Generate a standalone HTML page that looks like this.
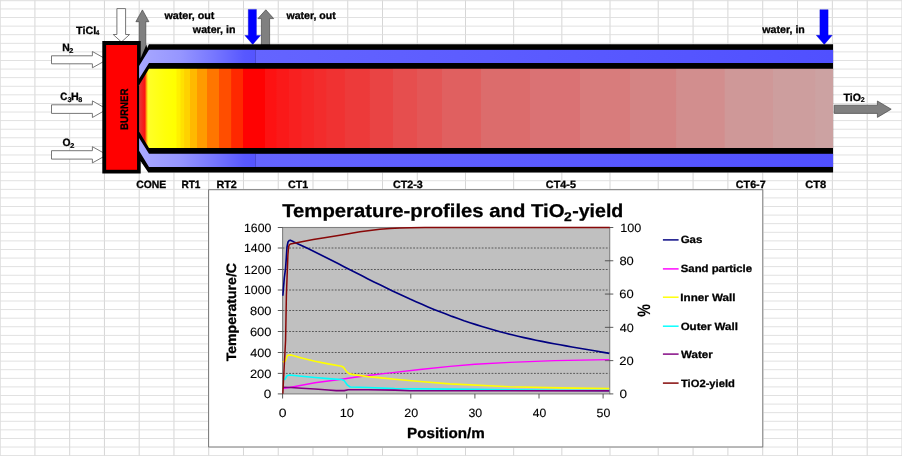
<!DOCTYPE html>
<html lang="en"><head><meta charset="utf-8"><title>Temperature-profiles and TiO2-yield</title>
<style>
html,body{margin:0;padding:0;background:#fff;}
body{width:902px;height:456px;overflow:hidden;font-family:'Liberation Sans', Arial, Helvetica, sans-serif;}
svg{display:block;}
</style></head><body>
<svg width="902" height="456" viewBox="0 0 902 456" font-family="'Liberation Sans', Arial, Helvetica, sans-serif" text-rendering="geometricPrecision"><rect width="902" height="456" fill="#fff"/>
<g fill="#d6d6d6"><rect x="-0.35" y="0" width="1" height="456"/><rect x="34.41" y="0" width="1" height="456"/><rect x="69.17" y="0" width="1" height="456"/><rect x="103.93" y="0" width="1" height="456"/><rect x="138.69" y="0" width="1" height="456"/><rect x="173.45" y="0" width="1" height="456"/><rect x="208.21" y="0" width="1" height="456"/><rect x="242.97" y="0" width="1" height="456"/><rect x="277.73" y="0" width="1" height="456"/><rect x="312.49" y="0" width="1" height="456"/><rect x="347.25" y="0" width="1" height="456"/><rect x="382.01" y="0" width="1" height="456"/><rect x="416.77" y="0" width="1" height="456"/><rect x="464.98" y="0" width="1" height="456"/><rect x="513.16" y="0" width="1" height="456"/><rect x="561.34" y="0" width="1" height="456"/><rect x="609.52" y="0" width="1" height="456"/><rect x="657.70" y="0" width="1" height="456"/><rect x="692.57" y="0" width="1" height="456"/><rect x="727.39" y="0" width="1" height="456"/><rect x="762.21" y="0" width="1" height="456"/><rect x="797.03" y="0" width="1" height="456"/><rect x="831.85" y="0" width="1" height="456"/><rect x="866.67" y="0" width="1" height="456"/><rect x="901.49" y="0" width="1" height="456"/></g><g fill="#dedede"><rect x="0" y="0.2" width="902" height="1"/><rect x="0" y="8.49" width="902" height="0.9"/><rect x="0" y="17.08" width="902" height="0.9"/><rect x="0" y="25.67" width="902" height="0.9"/><rect x="0" y="34.26" width="902" height="0.9"/><rect x="0" y="42.85" width="902" height="0.9"/><rect x="0" y="51.44" width="902" height="0.9"/><rect x="0" y="60.03" width="902" height="0.9"/><rect x="0" y="68.62" width="902" height="0.9"/><rect x="0" y="77.21" width="902" height="0.9"/><rect x="0" y="85.80" width="902" height="0.9"/><rect x="0" y="94.39" width="902" height="0.9"/><rect x="0" y="102.98" width="902" height="0.9"/><rect x="0" y="111.57" width="902" height="0.9"/><rect x="0" y="120.16" width="902" height="0.9"/><rect x="0" y="128.75" width="902" height="0.9"/><rect x="0" y="137.34" width="902" height="0.9"/><rect x="0" y="145.93" width="902" height="0.9"/><rect x="0" y="154.52" width="902" height="0.9"/><rect x="0" y="163.11" width="902" height="0.9"/><rect x="0" y="171.70" width="902" height="0.9"/><rect x="0" y="180.29" width="902" height="0.9"/><rect x="0" y="188.88" width="902" height="0.9"/><rect x="0" y="197.47" width="902" height="0.9"/><rect x="0" y="206.06" width="902" height="0.9"/><rect x="0" y="214.65" width="902" height="0.9"/><rect x="0" y="223.24" width="902" height="0.9"/><rect x="0" y="231.83" width="902" height="0.9"/><rect x="0" y="240.42" width="902" height="0.9"/><rect x="0" y="249.01" width="902" height="0.9"/><rect x="0" y="257.60" width="902" height="0.9"/><rect x="0" y="266.19" width="902" height="0.9"/><rect x="0" y="274.78" width="902" height="0.9"/><rect x="0" y="283.37" width="902" height="0.9"/><rect x="0" y="291.96" width="902" height="0.9"/><rect x="0" y="300.55" width="902" height="0.9"/><rect x="0" y="309.14" width="902" height="0.9"/><rect x="0" y="317.73" width="902" height="0.9"/><rect x="0" y="326.32" width="902" height="0.9"/><rect x="0" y="334.91" width="902" height="0.9"/><rect x="0" y="343.50" width="902" height="0.9"/><rect x="0" y="352.09" width="902" height="0.9"/><rect x="0" y="360.68" width="902" height="0.9"/><rect x="0" y="369.27" width="902" height="0.9"/><rect x="0" y="377.86" width="902" height="0.9"/><rect x="0" y="386.45" width="902" height="0.9"/><rect x="0" y="395.04" width="902" height="0.9"/><rect x="0" y="403.63" width="902" height="0.9"/><rect x="0" y="412.22" width="902" height="0.9"/><rect x="0" y="420.81" width="902" height="0.9"/><rect x="0" y="429.40" width="902" height="0.9"/><rect x="0" y="437.99" width="902" height="0.9"/><rect x="0" y="446.58" width="902" height="0.9"/><rect x="0" y="455.17" width="902" height="0.9"/></g>
<polygon points="116.90,8.60 125.60,8.60 125.60,34.50 129.60,34.50 121.40,42.00 113.20,34.50 116.90,34.50" fill="#fff" stroke="#686868" stroke-width="0.9"/>
<polygon points="51.50,55.80 92.40,55.80 92.40,51.50 107.00,59.65 92.40,67.80 92.40,63.80 51.50,63.80" fill="#fff" stroke="#686868" stroke-width="0.9"/>
<polygon points="51.50,104.80 92.40,104.80 92.40,100.90 107.00,109.20 92.40,117.50 92.40,113.40 51.50,113.40" fill="#fff" stroke="#686868" stroke-width="0.9"/>
<polygon points="51.50,150.70 92.40,150.70 92.40,146.70 107.00,154.80 92.40,162.90 92.40,159.10 51.50,159.10" fill="#fff" stroke="#686868" stroke-width="0.9"/>
<polygon points="142.40,9.90 148.90,21.70 145.80,21.70 145.80,58.00 139.20,58.00 139.20,21.70 135.90,21.70" fill="#808080" stroke="#484848" stroke-width="0.7"/>
<polygon points="265.80,9.80 273.70,18.60 269.60,18.60 269.60,46.00 261.40,46.00 261.40,18.60 257.90,18.60" fill="#808080" stroke="#484848" stroke-width="0.7"/>
<polygon points="834.20,105.20 877.40,105.20 877.40,101.00 891.20,109.20 877.40,117.40 877.40,113.40 834.20,113.40" fill="#808080" stroke="#484848" stroke-width="0.7"/>
<polygon points="248.30,9.40 256.40,9.40 256.40,35.50 260.50,35.50 252.70,44.40 244.90,35.50 248.30,35.50" fill="#0000ff" stroke="#0000d0" stroke-width="0.4"/>
<polygon points="819.90,9.70 828.10,9.70 828.10,35.30 832.20,35.30 824.25,44.40 816.30,35.30 819.90,35.30" fill="#0000ff" stroke="#0000d0" stroke-width="0.4"/>
<rect x="102.3" y="41" width="38.4" height="132.5" fill="#000"/>
<rect x="106.15" y="45" width="30.9" height="124.8" fill="#ff0000"/>
<polygon points="138.00,57.90 140.70,57.90 146.60,44.20 833.10,44.20 833.10,172.60 148.30,172.60 140.70,161.20 138.00,161.20" fill="#000" />
<polygon points="146.40,44.00 149.00,44.00 147.10,48.00" fill="#e8e8e8" />
<defs>
<linearGradient id="bl1" gradientUnits="userSpaceOnUse" x1="139" y1="0" x2="255.8" y2="0">
<stop offset="0" stop-color="#a8a8ff"/><stop offset="0.35" stop-color="#9696ff"/><stop offset="0.63" stop-color="#7878ff"/><stop offset="0.8" stop-color="#6464ff"/><stop offset="0.9" stop-color="#5858ff"/><stop offset="1" stop-color="#5454ff"/>
</linearGradient>
<linearGradient id="bl2" gradientUnits="userSpaceOnUse" x1="255.8" y1="0" x2="833" y2="0">
<stop offset="0" stop-color="#6464ff"/><stop offset="1" stop-color="#5050ff"/>
</linearGradient>
</defs>
<polygon points="149.00,49.85 255.80,49.85 255.80,63.00 149.00,63.00 139.10,78.80 139.10,66.00" fill="url(#bl1)" />
<polygon points="149.00,166.95 255.80,166.95 255.80,153.80 149.00,153.80 139.10,138.00 139.10,150.80" fill="url(#bl1)" />
<rect x="255.8" y="49.85" width="577.30" height="13.15" fill="url(#bl2)"/>
<rect x="255.8" y="153.80" width="577.30" height="13.15" fill="url(#bl2)"/>
<defs><linearGradient id="fl" gradientUnits="userSpaceOnUse" x1="139.1" y1="0" x2="833.1" y2="0"><stop offset="0.00000" stop-color="#e63838"/><stop offset="0.00836" stop-color="#fc1212"/><stop offset="0.01037" stop-color="#ff960c"/><stop offset="0.01282" stop-color="#ffff28"/><stop offset="0.03732" stop-color="#ffff0a"/><stop offset="0.05029" stop-color="#ffff00"/><stop offset="0.05349" stop-color="#ffff00"/><stop offset="0.05429" stop-color="#fff000"/><stop offset="0.05925" stop-color="#fff000"/><stop offset="0.06005" stop-color="#ffe100"/><stop offset="0.06473" stop-color="#ffe100"/><stop offset="0.06553" stop-color="#ffd200"/><stop offset="0.07280" stop-color="#ffd200"/><stop offset="0.07360" stop-color="#ffb900"/><stop offset="0.08303" stop-color="#ffb900"/><stop offset="0.08383" stop-color="#ff9b00"/><stop offset="0.09773" stop-color="#ff9b00"/><stop offset="0.09853" stop-color="#ff7600"/><stop offset="0.11487" stop-color="#ff7600"/><stop offset="0.11567" stop-color="#ff4e00"/><stop offset="0.13245" stop-color="#ff4e00"/><stop offset="0.13325" stop-color="#ff2800"/><stop offset="0.14902" stop-color="#ff2800"/><stop offset="0.14982" stop-color="#ff0202"/><stop offset="0.18101" stop-color="#ff0202"/><stop offset="0.18181" stop-color="#fd1212"/><stop offset="0.19758" stop-color="#fd1212"/><stop offset="0.19838" stop-color="#fa1919"/><stop offset="0.21559" stop-color="#fa1919"/><stop offset="0.21639" stop-color="#f82020"/><stop offset="0.23361" stop-color="#f82020"/><stop offset="0.23441" stop-color="#f52626"/><stop offset="0.25133" stop-color="#f52626"/><stop offset="0.25213" stop-color="#f32c2c"/><stop offset="0.26948" stop-color="#f32c2c"/><stop offset="0.27028" stop-color="#f03232"/><stop offset="0.29585" stop-color="#f03232"/><stop offset="0.29665" stop-color="#ed3a3a"/><stop offset="0.33188" stop-color="#ed3a3a"/><stop offset="0.33268" stop-color="#e94444"/><stop offset="0.36545" stop-color="#e94444"/><stop offset="0.36625" stop-color="#e64e4e"/><stop offset="0.40032" stop-color="#e64e4e"/><stop offset="0.40112" stop-color="#e35656"/><stop offset="0.43577" stop-color="#e35656"/><stop offset="0.43657" stop-color="#e06060"/><stop offset="0.49225" stop-color="#e06060"/><stop offset="0.49305" stop-color="#dc6c6c"/><stop offset="0.56286" stop-color="#dc6c6c"/><stop offset="0.56366" stop-color="#da7274"/><stop offset="0.63490" stop-color="#da7274"/><stop offset="0.63570" stop-color="#d87c7c"/><stop offset="0.70666" stop-color="#d87c7c"/><stop offset="0.70746" stop-color="#d48484"/><stop offset="0.77366" stop-color="#d48484"/><stop offset="0.77446" stop-color="#d28e8e"/><stop offset="0.84326" stop-color="#d28e8e"/><stop offset="0.84406" stop-color="#cf9898"/><stop offset="0.91271" stop-color="#cf9898"/><stop offset="0.91351" stop-color="#cd9e9e"/><stop offset="0.97410" stop-color="#cd9e9e"/><stop offset="0.97490" stop-color="#cca2a2"/><stop offset="1" stop-color="#cca2a2"/></linearGradient></defs>
<polygon points="139.10,85.30 149.00,68.70 833.10,68.70 833.10,148.10 149.00,148.10 139.10,131.50" fill="url(#fl)" />
<text transform="translate(75.99 33.80) scale(1.0196 1.0000)" font-size="10.6" font-weight="bold" fill="#000" stroke="#000" stroke-width="0.294" stroke-linejoin="round">TiCl</text>
<text transform="translate(95.80 35.40) scale(0.9079 1.0000)" font-size="7.0" font-weight="bold" fill="#000" stroke="#000" stroke-width="0.220" stroke-linejoin="round">4</text>
<text transform="translate(62.23 50.80) scale(0.9754 1.0000)" font-size="10.6" font-weight="bold" fill="#000" stroke="#000" stroke-width="0.308" stroke-linejoin="round">N</text>
<text transform="translate(68.92 52.50) scale(1.1310 1.0000)" font-size="7.0" font-weight="bold" fill="#000" stroke="#000" stroke-width="0.177" stroke-linejoin="round">2</text>
<text transform="translate(60.31 100.40) scale(0.9146 1.0000)" font-size="10.6" font-weight="bold" fill="#000" stroke="#000" stroke-width="0.328" stroke-linejoin="round">C</text>
<text transform="translate(67.42 102.00) scale(1.0390 1.0000)" font-size="7.0" font-weight="bold" fill="#000" stroke="#000" stroke-width="0.192" stroke-linejoin="round">3</text>
<text transform="translate(71.11 100.40) scale(1.0074 1.0000)" font-size="10.6" font-weight="bold" fill="#000" stroke="#000" stroke-width="0.298" stroke-linejoin="round">H</text>
<text transform="translate(78.28 102.00) scale(1.0245 1.0000)" font-size="7.0" font-weight="bold" fill="#000" stroke="#000" stroke-width="0.195" stroke-linejoin="round">8</text>
<text transform="translate(62.49 146.05) scale(0.9705 1.0000)" font-size="10.6" font-weight="bold" fill="#000" stroke="#000" stroke-width="0.309" stroke-linejoin="round">O</text>
<text transform="translate(70.12 147.55) scale(1.1310 1.0000)" font-size="7.0" font-weight="bold" fill="#000" stroke="#000" stroke-width="0.177" stroke-linejoin="round">2</text>
<text transform="translate(843.59 100.80) scale(0.9996 1.0000)" font-size="10.6" font-weight="bold" fill="#000" stroke="#000" stroke-width="0.300" stroke-linejoin="round">TiO</text>
<text transform="translate(860.65 102.40) scale(1.0119 1.0000)" font-size="7.0" font-weight="bold" fill="#000" stroke="#000" stroke-width="0.198" stroke-linejoin="round">2</text>
<text transform="translate(164.45 19.10) scale(1.0102 1.0000)" font-size="10.6" font-weight="bold" fill="#000" stroke="#000" stroke-width="0.297" stroke-linejoin="round">water, out</text>
<text transform="translate(192.85 32.70) scale(1.0068 1.0000)" font-size="10.6" font-weight="bold" fill="#000" stroke="#000" stroke-width="0.298" stroke-linejoin="round">water, in</text>
<text transform="translate(286.45 19.10) scale(0.9960 1.0000)" font-size="10.6" font-weight="bold" fill="#000" stroke="#000" stroke-width="0.301" stroke-linejoin="round">water, out</text>
<text transform="translate(762.35 32.80) scale(1.0020 1.0000)" font-size="10.6" font-weight="bold" fill="#000" stroke="#000" stroke-width="0.299" stroke-linejoin="round">water, in</text>
<text transform="translate(127.80 129.93) rotate(-90) scale(0.9666 1.0870)" font-size="10.0" font-weight="bold" stroke="#000" stroke-width="0.310" stroke-linejoin="round">BURNER</text>
<text transform="translate(136.28 187.90) scale(0.9803 1.0000)" font-size="10.6" font-weight="bold" fill="#000" stroke="#000" stroke-width="0.306" stroke-linejoin="round">CONE</text>
<text transform="translate(181.45 187.90) scale(0.9486 1.0000)" font-size="10.6" font-weight="bold" fill="#000" stroke="#000" stroke-width="0.316" stroke-linejoin="round">RT1</text>
<text transform="translate(216.40 187.90) scale(1.0200 1.0000)" font-size="10.6" font-weight="bold" fill="#000" stroke="#000" stroke-width="0.294" stroke-linejoin="round">RT2</text>
<text transform="translate(288.07 187.90) scale(1.0080 1.0000)" font-size="10.6" font-weight="bold" fill="#000" stroke="#000" stroke-width="0.298" stroke-linejoin="round">CT1</text>
<text transform="translate(393.07 187.90) scale(1.0098 1.0000)" font-size="10.6" font-weight="bold" fill="#000" stroke="#000" stroke-width="0.297" stroke-linejoin="round">CT2-3</text>
<text transform="translate(545.87 187.90) scale(1.0200 1.0000)" font-size="10.6" font-weight="bold" fill="#000" stroke="#000" stroke-width="0.294" stroke-linejoin="round">CT4-5</text>
<text transform="translate(735.87 187.90) scale(1.0117 1.0000)" font-size="10.6" font-weight="bold" fill="#000" stroke="#000" stroke-width="0.297" stroke-linejoin="round">CT6-7</text>
<text transform="translate(805.26 187.90) scale(1.0471 1.0000)" font-size="10.6" font-weight="bold" fill="#000" stroke="#000" stroke-width="0.287" stroke-linejoin="round">CT8</text>
<rect x="207.90" y="189.00" width="555.60" height="258.70" fill="#fff"/>
<rect x="208.6" y="189.7" width="554.20" height="257.30" fill="#fff" stroke="#747474" stroke-width="1"/>
<rect x="282.6" y="227.5" width="327.10" height="166.40" fill="#c0c0c0"/>
<line x1="282.6" y1="373.40" x2="609.7" y2="373.40" stroke="#585858" stroke-width="1" stroke-dasharray="1.8 1.465"/>
<line x1="282.6" y1="352.50" x2="609.7" y2="352.50" stroke="#585858" stroke-width="1" stroke-dasharray="1.8 1.465"/>
<line x1="282.6" y1="331.50" x2="609.7" y2="331.50" stroke="#585858" stroke-width="1" stroke-dasharray="1.8 1.465"/>
<line x1="282.6" y1="310.50" x2="609.7" y2="310.50" stroke="#585858" stroke-width="1" stroke-dasharray="1.8 1.465"/>
<line x1="282.6" y1="290.00" x2="609.7" y2="290.00" stroke="#585858" stroke-width="1" stroke-dasharray="1.8 1.465"/>
<line x1="282.6" y1="269.50" x2="609.7" y2="269.50" stroke="#585858" stroke-width="1" stroke-dasharray="1.8 1.465"/>
<line x1="282.6" y1="248.00" x2="609.7" y2="248.00" stroke="#585858" stroke-width="1" stroke-dasharray="1.8 1.465"/>
<rect x="282.6" y="227.5" width="327.10" height="166.40" fill="none" stroke="#808080" stroke-width="1.1"/>
<line x1="277.8" y1="393.90" x2="282.6" y2="393.90" stroke="#484848" stroke-width="0.9"/>
<text transform="translate(263.86 398.25) scale(1.1285 1.0000)" font-size="12.0" font-weight="normal" fill="#000" stroke="#000" stroke-width="0.106" stroke-linejoin="round">0</text>
<line x1="277.8" y1="373.40" x2="282.6" y2="373.40" stroke="#484848" stroke-width="0.9"/>
<text transform="translate(249.96 377.75) scale(1.0707 1.0000)" font-size="12.0" font-weight="normal" fill="#000" stroke="#000" stroke-width="0.112" stroke-linejoin="round">200</text>
<line x1="277.8" y1="352.50" x2="282.6" y2="352.50" stroke="#484848" stroke-width="0.9"/>
<text transform="translate(250.35 356.85) scale(1.0507 1.0000)" font-size="12.0" font-weight="normal" fill="#000" stroke="#000" stroke-width="0.114" stroke-linejoin="round">400</text>
<line x1="277.8" y1="331.50" x2="282.6" y2="331.50" stroke="#484848" stroke-width="0.9"/>
<text transform="translate(249.96 335.85) scale(1.0707 1.0000)" font-size="12.0" font-weight="normal" fill="#000" stroke="#000" stroke-width="0.112" stroke-linejoin="round">600</text>
<line x1="277.8" y1="310.50" x2="282.6" y2="310.50" stroke="#484848" stroke-width="0.9"/>
<text transform="translate(250.02 314.85) scale(1.0673 1.0000)" font-size="12.0" font-weight="normal" fill="#000" stroke="#000" stroke-width="0.112" stroke-linejoin="round">800</text>
<line x1="277.8" y1="290.00" x2="282.6" y2="290.00" stroke="#484848" stroke-width="0.9"/>
<text transform="translate(243.98 294.35) scale(1.0244 1.0000)" font-size="12.0" font-weight="normal" fill="#000" stroke="#000" stroke-width="0.117" stroke-linejoin="round">1000</text>
<line x1="277.8" y1="269.50" x2="282.6" y2="269.50" stroke="#484848" stroke-width="0.9"/>
<text transform="translate(243.98 273.85) scale(1.0244 1.0000)" font-size="12.0" font-weight="normal" fill="#000" stroke="#000" stroke-width="0.117" stroke-linejoin="round">1200</text>
<line x1="277.8" y1="248.00" x2="282.6" y2="248.00" stroke="#484848" stroke-width="0.9"/>
<text transform="translate(243.98 252.35) scale(1.0244 1.0000)" font-size="12.0" font-weight="normal" fill="#000" stroke="#000" stroke-width="0.117" stroke-linejoin="round">1400</text>
<line x1="277.8" y1="227.50" x2="282.6" y2="227.50" stroke="#484848" stroke-width="0.9"/>
<text transform="translate(243.98 231.85) scale(1.0244 1.0000)" font-size="12.0" font-weight="normal" fill="#000" stroke="#000" stroke-width="0.117" stroke-linejoin="round">1600</text>
<line x1="609.70" y1="393.90" x2="613.3000000000001" y2="393.90" stroke="#484848" stroke-width="0.9"/>
<text transform="translate(619.46 398.15) scale(1.1285 1.0000)" font-size="12.0" font-weight="normal" fill="#000" stroke="#000" stroke-width="0.106" stroke-linejoin="round">0</text>
<line x1="604.90" y1="360.62" x2="613.3000000000001" y2="360.62" stroke="#484848" stroke-width="0.9"/>
<text transform="translate(619.35 364.87) scale(1.0813 1.0000)" font-size="12.0" font-weight="normal" fill="#000" stroke="#000" stroke-width="0.111" stroke-linejoin="round">20</text>
<line x1="604.90" y1="327.34" x2="613.3000000000001" y2="327.34" stroke="#484848" stroke-width="0.9"/>
<text transform="translate(619.75 331.59) scale(1.0506 1.0000)" font-size="12.0" font-weight="normal" fill="#000" stroke="#000" stroke-width="0.114" stroke-linejoin="round">40</text>
<line x1="604.90" y1="294.06" x2="613.3000000000001" y2="294.06" stroke="#484848" stroke-width="0.9"/>
<text transform="translate(619.35 298.31) scale(1.0813 1.0000)" font-size="12.0" font-weight="normal" fill="#000" stroke="#000" stroke-width="0.111" stroke-linejoin="round">60</text>
<line x1="604.90" y1="260.78" x2="613.3000000000001" y2="260.78" stroke="#484848" stroke-width="0.9"/>
<text transform="translate(619.42 265.03) scale(1.0761 1.0000)" font-size="12.0" font-weight="normal" fill="#000" stroke="#000" stroke-width="0.112" stroke-linejoin="round">80</text>
<line x1="609.70" y1="227.50" x2="613.3000000000001" y2="227.50" stroke="#484848" stroke-width="0.9"/>
<text transform="translate(620.15 231.75) scale(1.0504 1.0000)" font-size="12.0" font-weight="normal" fill="#000" stroke="#000" stroke-width="0.114" stroke-linejoin="round">100</text>
<line x1="282.60" y1="393.9" x2="282.60" y2="398.5" stroke="#484848" stroke-width="0.9"/>
<text transform="translate(278.69 417.20) scale(1.1632 1.0000)" font-size="12.0" font-weight="normal" fill="#000" stroke="#000" stroke-width="0.103" stroke-linejoin="round">0</text>
<line x1="346.70" y1="393.9" x2="346.70" y2="398.5" stroke="#484848" stroke-width="0.9"/>
<text transform="translate(339.74 417.20) scale(1.0667 1.0000)" font-size="12.0" font-weight="normal" fill="#000" stroke="#000" stroke-width="0.113" stroke-linejoin="round">10</text>
<line x1="410.80" y1="393.9" x2="410.80" y2="398.5" stroke="#484848" stroke-width="0.9"/>
<text transform="translate(404.18 417.20) scale(1.0407 1.0000)" font-size="12.0" font-weight="normal" fill="#000" stroke="#000" stroke-width="0.115" stroke-linejoin="round">20</text>
<line x1="474.90" y1="393.9" x2="474.90" y2="398.5" stroke="#484848" stroke-width="0.9"/>
<text transform="translate(468.41 417.20) scale(1.0306 1.0000)" font-size="12.0" font-weight="normal" fill="#000" stroke="#000" stroke-width="0.116" stroke-linejoin="round">30</text>
<line x1="539.00" y1="393.9" x2="539.00" y2="398.5" stroke="#484848" stroke-width="0.9"/>
<text transform="translate(532.76 417.20) scale(1.0111 1.0000)" font-size="12.0" font-weight="normal" fill="#000" stroke="#000" stroke-width="0.119" stroke-linejoin="round">40</text>
<line x1="603.10" y1="393.9" x2="603.10" y2="398.5" stroke="#484848" stroke-width="0.9"/>
<text transform="translate(596.61 417.20) scale(1.0306 1.0000)" font-size="12.0" font-weight="normal" fill="#000" stroke="#000" stroke-width="0.116" stroke-linejoin="round">50</text>
<clipPath id="pc"><rect x="282.1" y="226.0" width="328.0" height="168.4"/></clipPath><g clip-path="url(#pc)">
<polyline points="282.8,295.8 284.3,278.0 285.6,268.0 286.3,258.0 287.0,247.0 288.0,242.0 289.2,240.5 290.3,240.2 292.0,240.9 294.0,242.0 296.0,242.9 302.0,245.7 308.0,248.6 314.0,251.5 320.0,254.5 326.0,257.5 332.0,260.5 338.0,263.6 344.0,266.7 350.0,269.7 356.0,272.8 362.0,275.8 368.0,278.9 374.0,281.9 380.0,284.8 386.0,287.8 392.0,290.7 398.0,293.5 404.0,296.3 410.0,299.1 416.0,301.7 422.0,304.3 428.0,306.9 434.0,309.4 440.0,311.8 446.0,314.1 452.0,316.4 458.0,318.5 464.0,320.7 470.0,322.7 476.0,324.6 482.0,326.5 488.0,328.3 494.0,330.0 500.0,331.7 506.0,333.3 512.0,334.8 518.0,336.2 524.0,337.6 530.0,338.9 536.0,340.2 542.0,341.4 548.0,342.6 554.0,343.7 560.0,344.8 566.0,345.9 572.0,347.0 578.0,348.0 584.0,349.0 590.0,350.0 596.0,351.0 602.0,352.1 608.0,353.1 609.3,353.4" fill="none" stroke="#000080" stroke-width="1.65" stroke-linejoin="round" stroke-linecap="butt"/>
<polyline points="283.0,388.6 291.0,387.2 301.6,385.2 314.9,382.8 328.2,381.0 341.5,379.2 354.8,377.2 368.1,375.5 381.4,373.9 394.7,372.4 420.0,369.5 449.9,366.4 474.9,364.3 509.7,362.4 554.7,360.6 609.3,359.6" fill="none" stroke="#ff00ff" stroke-width="1.4" stroke-linejoin="round" stroke-linecap="butt"/>
<polyline points="282.8,362.0 285.0,361.3 286.5,358.0 287.6,355.3 291.0,354.9 301.6,358.0 314.9,361.3 328.2,363.9 341.5,366.2 343.5,367.3 346.8,371.9 349.5,373.9 354.8,374.9 368.1,376.6 381.4,377.9 394.7,379.3 420.0,381.5 449.9,383.9 509.7,386.7 560.0,387.9 609.3,388.6" fill="none" stroke="#ffff00" stroke-width="1.6" stroke-linejoin="round" stroke-linecap="butt"/>
<polyline points="282.8,379.9 285.0,379.2 286.0,377.5 287.0,375.7 289.6,375.0 301.6,376.2 314.9,377.5 328.2,378.6 341.5,379.5 344.2,380.6 347.5,385.2 350.2,387.0 368.1,387.5 394.7,388.6 449.9,389.1 509.7,389.7 560.0,390.2 609.3,390.6" fill="none" stroke="#00ffff" stroke-width="1.6" stroke-linejoin="round" stroke-linecap="butt"/>
<polyline points="283.0,387.2 291.0,387.5 301.6,388.2 314.9,389.0 328.2,390.0 336.2,390.6 344.2,390.6 348.2,389.8 368.1,389.8 394.7,390.1 410.0,390.7 509.7,390.8 609.3,390.9" fill="none" stroke="#800080" stroke-width="1.6" stroke-linejoin="round" stroke-linecap="butt"/>
<polyline points="282.8,393.8 285.6,340.0 286.4,295.0 287.9,255.0 288.6,247.0 289.3,244.8 290.4,244.0 296.6,242.8 313.3,239.6 326.0,237.4 339.9,235.2 350.0,233.4 360.0,231.7 370.0,230.4 379.9,229.3 390.0,228.6 399.9,228.1 410.5,227.8 425.0,227.6 609.8,227.5" fill="none" stroke="#880808" stroke-width="1.5" stroke-linejoin="round" stroke-linecap="butt"/>
</g>
<text transform="translate(282.20 216.70) scale(1.0912 1.0000)" font-size="18.6" font-weight="bold" fill="#000" stroke="#000" stroke-width="0.275" stroke-linejoin="round">Temperature-profiles and TiO</text>
<text transform="translate(564.11 220.90) scale(1.1078 1.0000)" font-size="12.6" font-weight="bold" fill="#000" stroke="#000" stroke-width="0.271" stroke-linejoin="round">2</text>
<text transform="translate(572.22 216.70) scale(1.0517 1.0000)" font-size="18.6" font-weight="bold" fill="#000" stroke="#000" stroke-width="0.285" stroke-linejoin="round">-yield</text>
<text transform="translate(236.30 361.34) rotate(-90) scale(1.4082 1.3611)" font-size="10.0" font-weight="bold" stroke="#000" stroke-width="0.213" stroke-linejoin="round">Temperature/C</text>
<text transform="translate(407.01 437.60) scale(1.0415 1.0000)" font-size="14.6" font-weight="bold" fill="#000" stroke="#000" stroke-width="0.288" stroke-linejoin="round">Position/m</text>
<text transform="translate(650.10 316.85) rotate(-90) scale(1.4167 1.7887)" font-size="10.0" font-weight="bold" stroke="#000" stroke-width="0.071" stroke-linejoin="round">%</text>
<line x1="662.9" y1="239.90" x2="678.6" y2="239.90" stroke="#000080" stroke-width="1.45"/>
<text transform="translate(680.64 243.35) scale(1.0892 1.0000)" font-size="10.5" font-weight="bold" fill="#000" stroke="#000" stroke-width="0.275" stroke-linejoin="round">Gas</text>
<line x1="662.9" y1="268.90" x2="678.6" y2="268.90" stroke="#ff00ff" stroke-width="1.45"/>
<text transform="translate(680.76 272.35) scale(1.0803 1.0000)" font-size="10.5" font-weight="bold" fill="#000" stroke="#000" stroke-width="0.278" stroke-linejoin="round">Sand particle</text>
<line x1="662.9" y1="297.20" x2="678.6" y2="297.20" stroke="#ffff00" stroke-width="1.45"/>
<text transform="translate(680.34 300.65) scale(1.1073 1.0000)" font-size="10.5" font-weight="bold" fill="#000" stroke="#000" stroke-width="0.271" stroke-linejoin="round">Inner Wall</text>
<line x1="662.9" y1="326.20" x2="678.6" y2="326.20" stroke="#00ffff" stroke-width="1.45"/>
<text transform="translate(680.64 329.65) scale(1.0985 1.0000)" font-size="10.5" font-weight="bold" fill="#000" stroke="#000" stroke-width="0.273" stroke-linejoin="round">Outer Wall</text>
<line x1="662.9" y1="354.10" x2="678.6" y2="354.10" stroke="#800080" stroke-width="1.45"/>
<text transform="translate(681.10 357.55) scale(1.0974 1.0000)" font-size="10.5" font-weight="bold" fill="#000" stroke="#000" stroke-width="0.273" stroke-linejoin="round">Water</text>
<line x1="662.9" y1="383.10" x2="678.6" y2="383.10" stroke="#800000" stroke-width="1.45"/>
<text transform="translate(680.99 386.55) scale(1.0649 1.0000)" font-size="10.5" font-weight="bold" fill="#000" stroke="#000" stroke-width="0.282" stroke-linejoin="round">TiO2-yield</text></svg>
</body></html>
